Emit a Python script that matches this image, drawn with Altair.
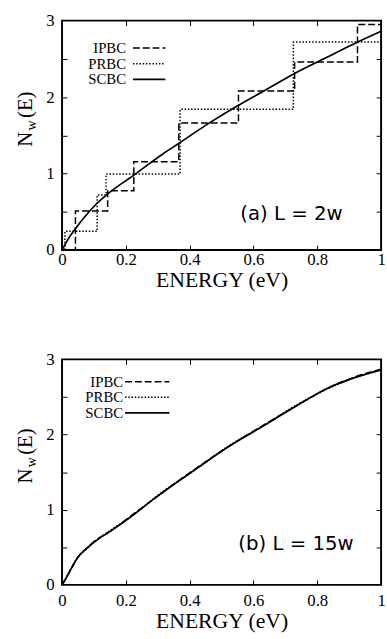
import altair as alt
import pandas as pd

# ---------------- data ----------------
# panel (a) L = 2w
a_ipbc_e = [0, 0.042, 0.143, 0.225, 0.366, 0.553, 0.729, 0.926, 1.0]
a_ipbc_n = [0, 0.51, 0.776, 1.155, 1.66, 2.08, 2.46, 2.95, 2.95]
a_prbc_e = [0, 0.009, 0.11, 0.138, 0.37, 0.725, 1.0]
a_prbc_n = [0, 0.245, 0.72, 0.995, 1.84, 2.72, 2.72]
a_scbc_e = [0, 0.02, 0.042, 0.07, 0.1, 0.148, 0.225, 0.317, 0.368, 0.45, 0.548, 0.62, 0.729, 0.83, 0.927, 1.0]
a_scbc_n = [0, 0.15, 0.28, 0.43, 0.57, 0.75, 0.98, 1.26, 1.40, 1.63, 1.88, 2.05, 2.31, 2.52, 2.72, 2.86]

# panel (b) L = 15w  (the three curves practically coincide)
b_scbc_e = [0, 0.01, 0.032, 0.05, 0.078, 0.104, 0.15, 0.217, 0.29, 0.423, 0.526, 0.629, 0.73, 0.834, 0.92, 1.0]
b_scbc_n = [0, 0.07, 0.24, 0.37, 0.49, 0.58, 0.71, 0.91, 1.15, 1.55, 1.85, 2.11, 2.37, 2.62, 2.76, 2.86]
b_ipbc_e = b_scbc_e
b_ipbc_n = [0, 0.07, 0.24, 0.37, 0.49, 0.59, 0.71, 0.92, 1.15, 1.56, 1.85, 2.12, 2.37, 2.62, 2.77, 2.87]
b_prbc_e = b_scbc_e
b_prbc_n = [0, 0.07, 0.25, 0.37, 0.48, 0.58, 0.72, 0.91, 1.16, 1.55, 1.86, 2.11, 2.38, 2.61, 2.76, 2.86]

series_names = ["IPBC", "PRBC", "SCBC"]
x_tick_labels = [0, 0.2, 0.4, 0.6, 0.8, 1]
x_minor = [0.2, 0.4, 0.6, 0.8]
y_tick_labels = [0, 1, 2, 3]
y_minor = [0.5, 1, 1.5, 2, 2.5]

SERIF = "Liberation Serif"
SANS = "DejaVu Sans"
W = 324

xs = alt.Scale(domain=[0, 1], nice=False, zero=False)
ys = alt.Scale(domain=[0, 3], nice=False, zero=False)

STYLE = {
    "IPBC": dict(strokeDash=[7, 3], strokeWidth=1.5),
    "PRBC": dict(strokeDash=[1.5, 1.8], strokeWidth=1.5),
    "SCBC": dict(strokeWidth=1.7),
}


def df(e, n):
    return pd.DataFrame({"E": e, "N": n})


def panel(curves, H, label, lab_pad, title_pad, leg, label_xy, steps,
          first=False):
    layers = []
    # axis with labels
    base = alt.Chart(df(*curves["SCBC"])).mark_point(opacity=0)
    layers.append(base.encode(
        x=alt.X("E:Q", scale=xs, axis=alt.Axis(
            orient="bottom", values=x_tick_labels, format="~g", tickSize=0,
            domain=False, grid=False, labelFont=SERIF, labelFontSize=17,
            labelColor="black", labelPadding=lab_pad, labelFlush=False,
            labelOverlap=False, title="ENERGY (eV)", titleFont=SERIF,
            titleFontSize=22, titleFontWeight="normal", titleColor="black",
            titlePadding=title_pad)),
        y=alt.Y("N:Q", scale=ys, axis=alt.Axis(
            orient="left", values=y_tick_labels, tickSize=0, domain=False,
            grid=False, labelFont=SERIF, labelFontSize=17, labelColor="black",
            labelPadding=8, labelFlush=False, labelOverlap=False, title=None)),
    ))
    # inward tick marks on all four sides
    for xo, yo in (("bottom", "left"), ("top", "right")):
        layers.append(base.encode(
            x=alt.X("E:Q", scale=xs, axis=alt.Axis(
                orient=xo, values=x_minor, offset=-5, tickSize=5, tickWidth=1,
                tickColor="black", labels=False, domain=False, grid=False,
                title=None)),
            y=alt.Y("N:Q", scale=ys, axis=alt.Axis(
                orient=yo, values=y_minor, offset=-5, tickSize=5, tickWidth=1,
                tickColor="black", labels=False, domain=False, grid=False,
                title=None)),
        ))
    # curves
    for name in series_names:
        e, n = curves[name]
        interp = "step-after" if (steps and name != "SCBC") else "monotone"
        layers.append(alt.Chart(df(e, n)).mark_line(
            color="black", clip=True, interpolate=interp,
            **STYLE[name]).encode(
            x=alt.X("E:Q", scale=xs, axis=None),
            y=alt.Y("N:Q", scale=ys, axis=None),
            order=alt.Order("E:Q")))
    # in-plot legend
    (tx, lx1, lx2, ly0, ldy) = leg
    for i, name in enumerate(series_names):
        yy = ly0 + i * ldy
        layers.append(alt.Chart(pd.DataFrame({"t": [name]})).mark_text(
            font=SERIF, fontSize=15, align="right", baseline="middle",
            color="black").encode(text="t:N", x=alt.value(tx), y=alt.value(yy)))
        layers.append(alt.Chart(pd.DataFrame({"t": [name]})).mark_rule(
            color="black", **STYLE[name]).encode(
            x=alt.value(lx1), x2=alt.value(lx2), y=alt.value(yy)))
    # panel label
    layers.append(alt.Chart(pd.DataFrame({"t": [label]})).mark_text(
        font=SANS, fontSize=20, align="left", baseline="middle",
        color="black").encode(text="t:N", x=alt.value(label_xy[0]),
                              y=alt.value(label_xy[1])))
    # y title  N_w(E)
    cy = H / 2
    for txt, xx, dy, fs in (("N", -36, 4, 21), ("w", -30.5, -10, 14),
                            ("(E)", -36, -31, 21)):
        layers.append(alt.Chart(pd.DataFrame({"t": [txt]})).mark_text(
            font=SERIF, fontSize=fs, angle=270, align="center",
            baseline="middle", color="black").encode(
            text="t:N", x=alt.value(xx), y=alt.value(cy + dy)))
    if first:
        layers.append(alt.Chart(pd.DataFrame({"t": [0]})).mark_rule(
            opacity=0, strokeWidth=1).encode(
            x=alt.value(-61.5), x2=alt.value(-61.5),
            y=alt.value(-14.5), y2=alt.value(-14)))
    return alt.layer(*layers).resolve_axis(
        x="independent", y="independent").properties(width=W, height=H)


top = panel({"IPBC": (a_ipbc_e, a_ipbc_n), "PRBC": (a_prbc_e, a_prbc_n),
             "SCBC": (a_scbc_e, a_scbc_n)}, 233, "(a) L = 2w", 2, 2,
            (65, 72, 105, 27.7, 16), (181, 196), True, first=True)
bottom = panel({"IPBC": (b_ipbc_e, b_ipbc_n), "PRBC": (b_prbc_e, b_prbc_n),
                "SCBC": (b_scbc_e, b_scbc_n)}, 229, "(b) L = 15w", 8, 2,
               (62, 64, 109, 22.7, 15.8), (179, 188), False)

chart = alt.vconcat(top, bottom, spacing=111, bounds="flush").properties(
    padding=0, background="white"
).configure(font=SERIF).configure_axis(
    labelFont=SERIF, titleFont=SERIF
).configure_view(stroke="black", strokeWidth=2)

chart.save("out.html", embed_options={"renderer": "svg", "actions": False})
